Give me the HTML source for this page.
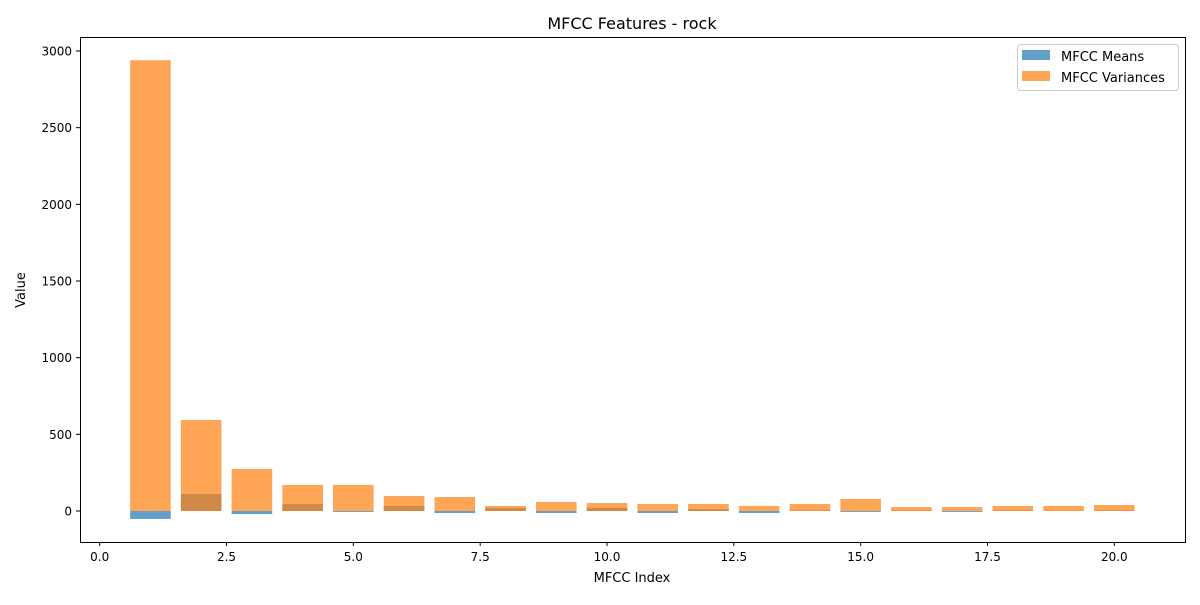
<!DOCTYPE html>
<html><head><meta charset="utf-8"><style>
body{margin:0;background:#fff;}
svg text{font-family:"DejaVu Sans","Liberation Sans",sans-serif;fill:#000;}
</style></head><body>
<svg id="chart" width="1200" height="600" xmlns="http://www.w3.org/2000/svg">
<rect x="0" y="0" width="1200" height="600" fill="#fff"/>
<g id="marks"></g>
<rect x="80.5" y="37.5" width="1105" height="505" fill="none" stroke="#000" stroke-width="1"/>
<g id="xticks"></g><g id="yticks"></g>
<text x="632" y="29" font-size="16" text-anchor="middle">MFCC Features - rock</text>
<text x="632" y="582" font-size="13" text-anchor="middle">MFCC Index</text>
<text x="25" y="290" font-size="13" text-anchor="middle" transform="rotate(-90 25 290)">Value</text>
<g>
<rect x="1017.5" y="44.5" width="161" height="46" rx="3" fill="#fff" fill-opacity="0.8" stroke="#ccc"/>
<rect x="1022" y="50" width="28" height="10" fill="#1f77b4" fill-opacity="0.7"/>
<text x="1061" y="61" font-size="13">MFCC Means</text>
<rect x="1022" y="71" width="28" height="10" fill="#ff7f0e" fill-opacity="0.7"/>
<text x="1061" y="82" font-size="13">MFCC Variances</text>
</g>
</svg>
<script>
const indices=[1,2,3,4,5,6,7,8,9,10,11,12,13,14,15,16,17,18,19,20];
const means=[-52,111,-20,45,-6,33,-13,20,-13,20,-13,12,-13,4,-6,4,-6,4,2,4];
const variances=[2940,593,274,170,170,98,91,33,59,52,46,46,33,46,78,26,26,33,33,39];
const xTicks=[0,2.5,5,7.5,10,12.5,15,17.5,20];
const xTickLabels=["0.0","2.5","5.0","7.5","10.0","12.5","15.0","17.5","20.0"];
const yTicks=[0,500,1000,1500,2000,2500,3000];
const ns="http://www.w3.org/2000/svg";
const X=v=>99.7+v*50.73;
const Y=v=>511-v*0.15333;
function mk(tag,attrs,parent){const e=document.createElementNS(ns,tag);for(const k in attrs)e.setAttribute(k,attrs[k]);parent.appendChild(e);return e;}
const marks=document.getElementById('marks');
indices.forEach((ix,i)=>{
 const v=means[i];
 const r=mk('rect',{x:X(ix-0.4),width:X(ix+0.4)-X(ix-0.4),y:Math.min(Y(v),Y(0)),height:Math.abs(Y(v)-Y(0)),fill:'#1f77b4','fill-opacity':0.7},marks);
 
 
});
indices.forEach((ix,i)=>{
 const v=variances[i];
 const r=mk('rect',{x:X(ix-0.4),width:X(ix+0.4)-X(ix-0.4),y:Math.min(Y(v),Y(0)),height:Math.abs(Y(v)-Y(0)),fill:'#ff7f0e','fill-opacity':0.7},marks);
 
 
});
const xg=document.getElementById('xticks');
xTicks.forEach((t,i)=>{
 const x=X(t);
 mk('line',{x1:x,x2:x,y1:542,y2:546,stroke:'#000'},xg);
 const tx=mk('text',{x:x,y:561,'font-size':12,'text-anchor':'middle'},xg);
 tx.textContent=xTickLabels[i];
 
 
});
const yg=document.getElementById('yticks');
yTicks.forEach(t=>{
 const y=Y(t);
 mk('line',{x1:76,x2:80,y1:y,y2:y,stroke:'#000'},yg);
 const tx=mk('text',{x:72,y:y+4.5,'font-size':12,'text-anchor':'end'},yg);
 tx.textContent=String(t);
 
 
});
</script>
</body></html>
